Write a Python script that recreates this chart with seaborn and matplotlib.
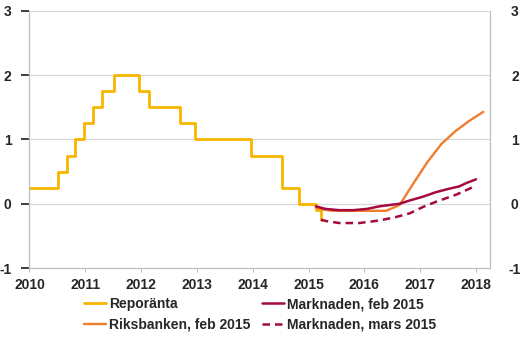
import matplotlib
matplotlib.use("Agg")
import matplotlib.pyplot as plt
import seaborn as sns

# Reporänta (step changes, decimal years)
repo_x = [2010.0, 2010.515, 2010.68, 2010.82, 2010.97, 2011.14, 2011.30, 2011.51,
          2011.97, 2012.14, 2012.70, 2012.97, 2013.96, 2014.52, 2014.82, 2015.13, 2015.23]
repo_y = [0.25, 0.5, 0.75, 1.0, 1.25, 1.5, 1.75, 2.0,
          1.75, 1.5, 1.25, 1.0, 0.75, 0.25, 0.0, -0.10, -0.25]

# Riksbanken, feb 2015
rb_x = [2015.13, 2015.26, 2015.43, 2015.88, 2016.13, 2016.39, 2016.63, 2016.88,
        2017.13, 2017.38, 2017.63, 2017.88, 2018.13]
rb_y = [-0.06, -0.09, -0.11, -0.11, -0.11, -0.11, -0.02, 0.32,
        0.65, 0.93, 1.13, 1.29, 1.43]

# Marknaden, feb 2015
mf_x = [2015.13, 2015.30, 2015.55, 2015.80, 2016.05, 2016.27, 2016.63, 2016.81,
        2017.05, 2017.28, 2017.50, 2017.70, 2017.82, 2018.0]
mf_y = [-0.04, -0.08, -0.10, -0.10, -0.08, -0.04, 0.0, 0.05,
        0.11, 0.18, 0.23, 0.27, 0.32, 0.38]

# Marknaden, mars 2015
mm_x = [2015.22, 2015.32, 2015.55, 2015.91, 2016.27, 2016.55, 2016.81,
        2017.05, 2017.28, 2017.64, 2018.0]
mm_y = [-0.25, -0.27, -0.30, -0.30, -0.26, -0.21, -0.15,
        -0.05, 0.03, 0.14, 0.28]

year_ticks = [2010, 2011, 2012, 2013, 2014, 2015, 2016, 2017, 2018]
y_ticks = [-1, 0, 1, 2, 3]

labels = ["Reporänta", "Riksbanken, feb 2015", "Marknaden, feb 2015", "Marknaden, mars 2015"]
c_repo = "#F7B500"
c_rb = "#F07D2E"
c_mk = "#A5093F"

sns.set_theme(style="white")
plt.rcParams['font.family'] = ['Liberation Sans', 'DejaVu Sans']
plt.rcParams['font.weight'] = 'bold'
plt.rcParams['axes.unicode_minus'] = False

FS = 10

fig = plt.figure(figsize=(5.2, 3.41), dpi=100)
ax = fig.add_axes([0.0567, 0.214, 0.8856, 0.754])

sns.lineplot(x=repo_x, y=repo_y, ax=ax, color=c_repo, lw=2.0, drawstyle="steps-post",
             label=labels[0], sort=False)
sns.lineplot(x=rb_x, y=rb_y, ax=ax, color=c_rb, lw=1.7, label=labels[1], sort=False)
sns.lineplot(x=mf_x, y=mf_y, ax=ax, color=c_mk, lw=1.8, label=labels[2], sort=False)
sns.lineplot(x=mm_x, y=mm_y, ax=ax, color=c_mk, lw=1.8, linestyle=(0, (3, 2)),
             label=labels[3], sort=False)

ax.set_xlim(2010, 2018.25)
ax.set_ylim(-1, 3)
ax.set_xticks(year_ticks)
ax.set_xticklabels([str(t) for t in year_ticks], fontsize=FS, fontweight='bold')
ax.set_yticks(y_ticks)
ax.set_yticklabels([str(t) for t in y_ticks], fontsize=FS, fontweight='bold')
for y in [0, 1, 2, 3]:
    ax.axhline(y, color="#D9D9D9", lw=0.9, zorder=0)

ax.tick_params(axis='y', left=False, right=False, labelleft=True, labelright=False, pad=7)
ax.tick_params(axis='x', bottom=True, length=3, width=0.8, color="#BFBFBF", pad=4)
for s in ['left', 'right', 'bottom']:
    ax.spines[s].set_visible(True)
    ax.spines[s].set_color("#BFBFBF")
    ax.spines[s].set_linewidth(0.9)
ax.spines['top'].set_visible(False)

# right-hand value axis (same scale)
ax2 = ax.twinx()
ax2.set_ylim(ax.get_ylim())
ax2.set_yticks(y_ticks)
ax2.set_yticklabels([str(t) for t in y_ticks], fontsize=FS, fontweight='bold')
ax2.tick_params(axis='y', right=False, left=False, pad=11.9)
for t in ax2.yaxis.get_majorticklabels():
    t.set_horizontalalignment('center')
for s in ax2.spines.values():
    s.set_visible(False)
ax2.grid(False)

h, l = ax.get_legend_handles_labels()
ax.get_legend().remove()
fig.legend(h, l, loc='upper center', bbox_to_anchor=(0.5, 0.128), ncol=2, frameon=False,
           prop={'size': FS, 'weight': 'bold'}, handlelength=1.6, handletextpad=0.2,
           columnspacing=0.8, labelspacing=0.45, borderaxespad=0, borderpad=0)

fig.savefig("out.png", dpi=100)
